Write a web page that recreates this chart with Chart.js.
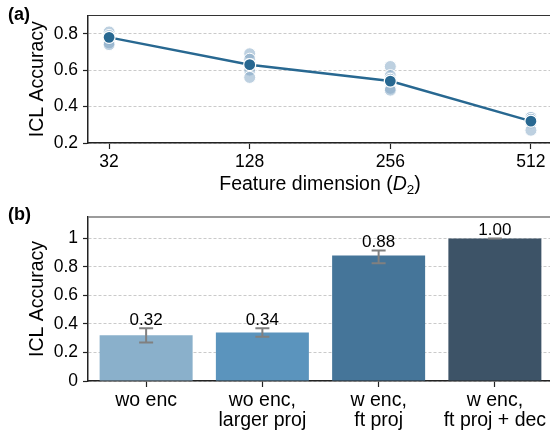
<!DOCTYPE html>
<html>
<head>
<meta charset="utf-8">
<script src="https://cdn.jsdelivr.net/npm/chart.js@4.4.1/dist/chart.umd.min.js"></script>
<style>
 body { margin: 0; width: 550px; height: 432px; overflow: hidden; position: relative; background: #fff; font-family: "Liberation Sans", Arial, sans-serif; }
 canvas { position: absolute; left: 0; }
 #dimChart { top: 0; }
 #setupChart { top: 200px; }
 .panel { position: absolute; left: 8px; font-weight: bold; font-size: 18px; line-height: 20px; }
</style>
</head>
<body>
<canvas id="dimChart" width="560" height="200"></canvas>
<canvas id="setupChart" width="560" height="232"></canvas>
<div class="panel" style="top:4px">(a)</div>
<div class="panel" style="top:204px">(b)</div>
<script>
var FONT = "'Liberation Sans', Arial, sans-serif";
Chart.defaults.font.family = FONT;
Chart.defaults.color = '#000';

// (a) accuracy vs feature dimension, mean + individual runs
var dims = ['32', '128', '256', '512'];
var meanAcc = [0.78, 0.63, 0.54, 0.32];
var runAcc = [
 [0.81, 0.79, 0.77, 0.75, 0.74],
 [0.69, 0.66, 0.63, 0.60, 0.56],
 [0.62, 0.57, 0.55, 0.50, 0.49],
 [0.34, 0.34, 0.33, 0.31, 0.27]
];
var yTicksA = [0.2, 0.4, 0.6, 0.8];

// (b) encoder / projection ablation
var setups = [['wo enc'], ['wo enc,', 'larger proj'], ['w enc,', 'ft proj'], ['w enc,', 'ft proj + dec']];
var barAcc = [0.32, 0.34, 0.88, 1.00];
var errLow = [0.27, 0.31, 0.825, 1.00];
var errHigh = [0.37, 0.37, 0.915, 1.00];
var barColors = ['#8AB0CB', '#5B94BD', '#457599', '#3D5367'];
var yTicksB = [0, 0.2, 0.4, 0.6, 0.8, 1];

var lineBlue = '#286891';

var topSpine = {
 id: 'topSpine',
 afterDraw: function (chart, args, opts) {
  var a = chart.chartArea, ctx = chart.ctx;
  ctx.save();
  ctx.strokeStyle = opts.color;
  ctx.lineWidth = opts.width;
  ctx.beginPath();
  ctx.moveTo(a.left, a.top);
  ctx.lineTo(a.right, a.top);
  ctx.stroke();
  ctx.restore();
 }
};

// x title with italic D and subscript 2
var dimTitle = {
 id: 'dimTitle',
 afterDraw: function (chart) {
  var ctx = chart.ctx, sx = chart.scales.x;
  var parts = [
   { t: 'Feature dimension (', f: '19.5px ' + FONT, dy: 0 },
   { t: 'D', f: 'italic 19.5px ' + FONT, dy: 0 },
   { t: '2', f: '13.5px ' + FONT, dy: 4 },
   { t: ')', f: '19.5px ' + FONT, dy: 0 }
  ];
  ctx.save();
  var total = 0;
  parts.forEach(function (p) {
   ctx.font = p.f;
   p.w = ctx.measureText(p.t).width;
   total += p.w;
  });
  var x = (sx.left + sx.right) / 2 - total / 2;
  var base = sx.bottom - 10;
  ctx.fillStyle = '#000';
  ctx.textBaseline = 'alphabetic';
  ctx.textAlign = 'left';
  parts.forEach(function (p) {
   ctx.font = p.f;
   ctx.fillText(p.t, x, base + p.dy);
   x += p.w;
  });
  ctx.restore();
 }
};

// error bars and value labels on top of the bars
var barExtras = {
 id: 'barExtras',
 afterDatasetsDraw: function (chart) {
  var ctx = chart.ctx, sy = chart.scales.y;
  var meta = chart.getDatasetMeta(0);
  ctx.save();
  meta.data.forEach(function (bar, i) {
   var hi = sy.getPixelForValue(errHigh[i]);
   var lo = sy.getPixelForValue(errLow[i]);
   ctx.strokeStyle = '#808080';
   ctx.lineWidth = 2;
   ctx.beginPath();
   ctx.moveTo(bar.x, hi); ctx.lineTo(bar.x, lo);
   ctx.moveTo(bar.x - 7, hi); ctx.lineTo(bar.x + 7, hi);
   ctx.moveTo(bar.x - 7, lo); ctx.lineTo(bar.x + 7, lo);
   ctx.stroke();
   ctx.fillStyle = '#000';
   ctx.font = '17px ' + FONT;
   ctx.textAlign = 'center';
   ctx.textBaseline = 'alphabetic';
   ctx.fillText(barAcc[i].toFixed(2), bar.x, Math.min(hi, bar.y) - 3.5);
  });
  ctx.restore();
 }
};

var runPoints = [];
runAcc.forEach(function (runs, i) {
 runs.forEach(function (v) { runPoints.push({ x: i, y: v }); });
});

function yAxis(ticks, min, max) {
 return {
  min: min,
  max: max,
  afterBuildTicks: function (s) { s.ticks = ticks.map(function (v) { return { value: v }; }); },
  afterFit: function (s) { s.width = 88; },
  ticks: {
   font: { size: 17.5 },
   padding: 5,
   callback: function (v) { return String(v); }
  },
  grid: { color: '#bdbdbd', lineWidth: 0.8, tickLength: 5, tickColor: '#222', tickWidth: 1.2, tickBorderDash: [] },
  border: { display: true, color: '#222', width: 1.5, dash: [3, 2] },
  title: { display: true, text: 'ICL Accuracy', font: { size: 19.5 }, padding: { top: 26, bottom: 0 } }
 };
}

new Chart(document.getElementById('dimChart'), {
 type: 'line',
 data: {
  datasets: [
   {
    data: meanAcc.map(function (v, i) { return { x: i, y: v }; }),
    borderColor: lineBlue,
    borderWidth: 2.5,
    pointRadius: 6,
    pointBackgroundColor: lineBlue,
    pointBorderColor: '#fff',
    pointBorderWidth: 1.2,
    order: 0
   },
   {
    type: 'scatter',
    data: runPoints,
    backgroundColor: 'rgba(123,161,193,0.5)',
    borderColor: '#fff',
    borderWidth: 1,
    pointRadius: 6,
    showLine: false,
    order: 1
   }
  ]
 },
 options: {
  responsive: false,
  animation: false,
  devicePixelRatio: 1,
  events: [],
  layout: { padding: { top: 12, right: 8, left: 0, bottom: 0 } },
  plugins: { legend: { display: false }, tooltip: { enabled: false }, topSpine: { color: '#333', width: 1.2 } },
  scales: {
   x: {
    type: 'linear',
    min: -0.15,
    max: 3.15,
    afterBuildTicks: function (s) { s.ticks = dims.map(function (d, i) { return { value: i }; }); },
    afterFit: function (s) { s.height = 57; },
    ticks: {
     font: { size: 17.5 },
     padding: 3,
     maxRotation: 0,
     callback: function (v) { return dims[v]; }
    },
    grid: { drawOnChartArea: false, tickLength: 6, tickColor: '#222', tickWidth: 1.2 },
    border: { display: true, color: '#222', width: 1.5 }
   },
   y: yAxis(yTicksA, 0.2, 0.9)
  }
 },
 plugins: [topSpine, dimTitle]
});

new Chart(document.getElementById('setupChart'), {
 type: 'bar',
 data: {
  labels: setups,
  datasets: [{
   data: barAcc,
   backgroundColor: barColors,
   borderWidth: 0,
   categoryPercentage: 0.8,
   barPercentage: 1
  }]
 },
 options: {
  responsive: false,
  animation: false,
  devicePixelRatio: 1,
  events: [],
  layout: { padding: { top: 17, right: 7, left: 0, bottom: 0 } },
  plugins: { legend: { display: false }, tooltip: { enabled: false }, topSpine: { color: '#7a7a7a', width: 1.5 } },
  scales: {
   x: {
    afterFit: function (s) { s.height = 51; },
    ticks: { font: { size: 19.5, lineHeight: 1.05 }, padding: 3, maxRotation: 0, autoSkip: false },
    grid: { drawOnChartArea: false, tickLength: 6, tickColor: '#222', tickWidth: 1.2, offset: false },
    border: { display: true, color: '#222', width: 1.5 }
   },
   y: yAxis(yTicksB, 0, 1.15)
  }
 },
 plugins: [topSpine, barExtras]
});
</script>
</body>
</html>
